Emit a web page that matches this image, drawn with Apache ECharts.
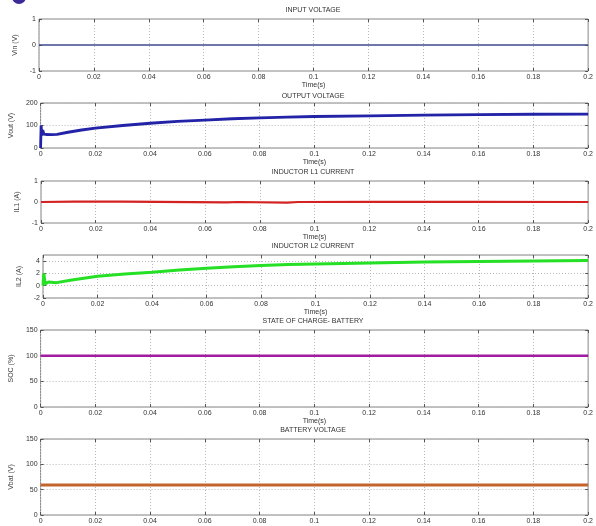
<!DOCTYPE html>
<html><head><meta charset="utf-8">
<script src="https://cdn.jsdelivr.net/npm/echarts@6/dist/echarts.min.js"></script>
<style>html,body{margin:0;padding:0;background:#fff}#c{width:596px;height:526px}</style>
</head><body><div id="c"></div>
<script>
// ---- data ----
const titles = ['INPUT VOLTAGE','OUTPUT VOLTAGE','INDUCTOR L1 CURRENT','INDUCTOR L2 CURRENT','STATE OF CHARGE- BATTERY','BATTERY VOLTAGE'];
const yNames = ['Vin (V)','Vout (V)','IL1 (A)','IL2 (A)','SOC (%)','Vbat (V)'];
const xTicks = [0,0.02,0.04,0.06,0.08,0.1,0.12,0.14,0.16,0.18,0.2];

const vinT = [0, 0.2];
const vinV = [0, 0];

const voutT = [0, 0.0002, 0.0005, 0.0008, 0.0012, 0.002, 0.004, 0.006, 0.01, 0.015, 0.02, 0.03, 0.04, 0.05, 0.06, 0.07, 0.08, 0.09, 0.1, 0.12, 0.14, 0.16, 0.18, 0.2];
const voutV = [0, 100, 55, 80, 62, 60, 59, 61, 70, 80, 88, 100, 110, 118, 124, 130, 134, 137, 140, 143, 146, 148, 150, 151];

const il1T = [0, 0.012, 0.03, 0.068, 0.072, 0.09, 0.094, 0.12, 0.16, 0.2];
const il1V = [0, 0.02, 0.02, -0.02, 0, -0.03, 0, 0.01, 0.01, 0];

const il2T = [0, 0.0003, 0.0008, 0.002, 0.005, 0.01, 0.02, 0.03, 0.04, 0.05, 0.06, 0.07, 0.08, 0.09, 0.1, 0.12, 0.14, 0.16, 0.18, 0.2];
const il2V = [0, 2, 0.3, 0.6, 0.5, 0.9, 1.55, 1.9, 2.2, 2.55, 2.85, 3.1, 3.3, 3.45, 3.55, 3.7, 3.85, 3.95, 4.02, 4.1];

const socT = [0, 0.2];
const socV = [100, 100];

const vbatT = [0, 0.2];
const vbatV = [59, 59];

const yMins = [-1, 0, -1, -2, 0, 0];
const yMaxs = [1, 200, 1, 5, 150, 150];
const yIntervals = [1, 100, 1, 2, 50, 50];

// ---- layout / style ----
const grids = [
  {left:39, top:19, width:552, height:52},
  {left:39, top:103, width:552, height:45},
  {left:41, top:181, width:550, height:42},
  {left:43, top:255, width:551, height:43},
  {left:33, top:330, width:560, height:77},
  {left:33, top:439, width:560, height:76}
];
const titleTops = [7, 93, 169, 243, 318, 427];
const nameGaps = [18, 16, 15, 16, 16, 16];
const colors = ['#3c4a8c','#2323a8','#d42222','#25e025','#a01ca0','#c2642c'];
const widths = [1.5, 2.8, 2.2, 3, 2.5, 3];
const showTimeName = [true,true,true,true,true,false];

const series = [[vinT,vinV],[voutT,voutV],[il1T,il1V],[il2T,il2V],[socT,socV],[vbatT,vbatV]];

const fontFam = '"Liberation Sans", Arial, sans-serif';
const gridLine = {show:true, lineStyle:{color:'#b8b8b8', type:[1,2], width:1}};
const tickStyle = {show:true, inside:true, length:3, lineStyle:{color:'#555'}};

const option = {
  animation:false,
  backgroundColor:'#fff',
  title: titles.map((t,i)=>({text:t, left:313, top:titleTops[i], textAlign:'center', padding:0,
    textStyle:{fontSize:7, fontWeight:'normal', color:'#333', fontFamily:fontFam}})),
  grid: grids.map(g=>Object.assign({show:true, borderColor:'#858585', borderWidth:1, backgroundColor:'#fff'}, g)),
  xAxis: [],
  yAxis: [],
  series: [],
  graphic:[{type:'circle', shape:{cx:19, cy:-3, r:7}, style:{fill:'#3a2a9a'}}]
};

for (let i=0;i<6;i++){
  option.xAxis.push({type:'value', gridIndex:i, min:0, max:0.2, interval:0.02, position:'bottom',
    name: showTimeName[i] ? 'Time(s)' : '', nameLocation:'middle', nameGap:8,
    nameTextStyle:{fontSize:7, color:'#333', fontFamily:fontFam},
    axisLine:{show:false, onZero:false}, axisTick:tickStyle,
    axisLabel:{fontSize:7, color:'#333', margin:3, fontFamily:fontFam, formatter:v=>String(+v.toFixed(2))},
    splitLine:gridLine});
  option.xAxis.push({type:'value', gridIndex:i, min:0, max:0.2, interval:0.02, position:'top',
    axisLine:{show:false, onZero:false}, axisTick:tickStyle,
    axisLabel:{show:false}, splitLine:{show:false}});
  option.yAxis.push({type:'value', gridIndex:i, min:yMins[i], max:yMaxs[i], interval:yIntervals[i], position:'left',
    name:yNames[i], nameLocation:'middle', nameGap:nameGaps[i], nameRotate:90,
    nameTextStyle:{fontSize:7, color:'#444', fontFamily:fontFam},
    axisLine:{show:false, onZero:false}, axisTick:tickStyle,
    axisLabel:{fontSize:7, color:'#333', margin:3, fontFamily:fontFam, showMaxLabel: i===3 ? false : true},
    splitLine: (i===0||i===2) ? {show:false} : gridLine});
  option.yAxis.push({type:'value', gridIndex:i, min:yMins[i], max:yMaxs[i], interval:yIntervals[i], position:'right',
    axisLine:{show:false, onZero:false}, axisTick:tickStyle,
    axisLabel:{show:false}, splitLine:{show:false}});
  const [T,V] = series[i];
  option.series.push({type:'line', xAxisIndex:2*i, yAxisIndex:2*i, showSymbol:false, symbol:'none',
    data: T.map((t,k)=>[t, V[k]]), lineStyle:{color:colors[i], width:widths[i]}, itemStyle:{color:colors[i]}});
}

const chart = echarts.init(document.getElementById('c'), null, {renderer:'canvas'});
chart.setOption(option);
</script>
</body></html>
